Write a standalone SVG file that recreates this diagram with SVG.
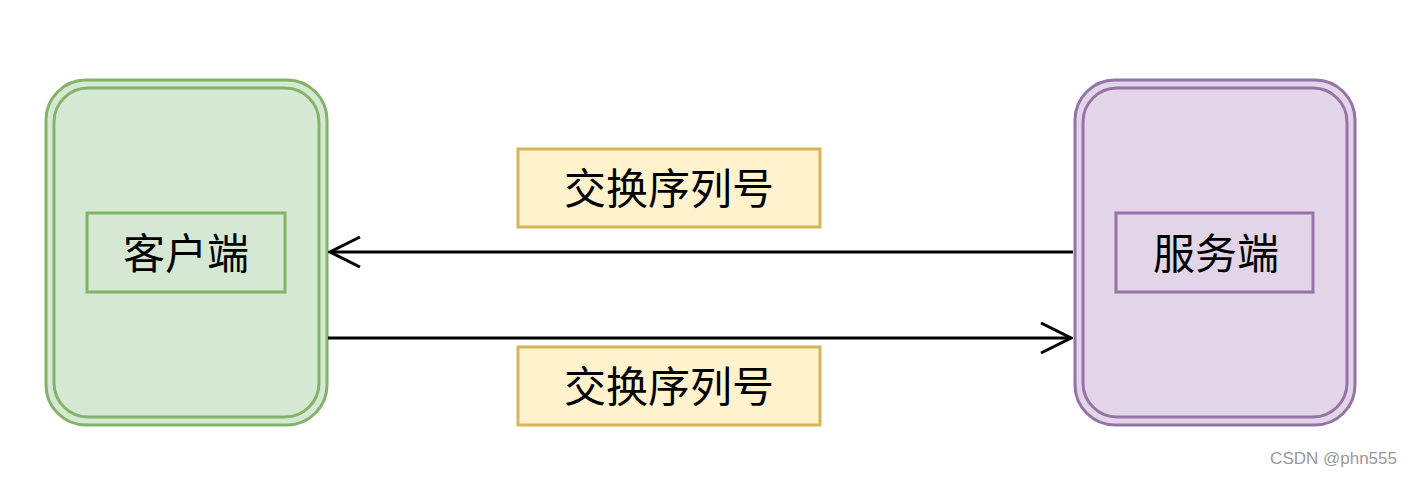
<svg xmlns="http://www.w3.org/2000/svg" width="1412" height="478" viewBox="0 0 1412 478">
<style>
.t{font-family:"Liberation Sans","Noto Sans CJK SC",sans-serif;font-size:42px;fill:#000;text-anchor:middle;dominant-baseline:central}
.lbl{fill:#fff2cc;stroke:#d6b656;stroke-width:3}
.c{stroke:#000;stroke-width:3;fill:none}
</style>
<defs><marker id="a" markerWidth="14" markerHeight="14" refX="12" refY="7" orient="auto" markerUnits="userSpaceOnUse" viewBox="0 0 14 14"><path d="M0,0 L12,7 L0,14" fill="none" stroke="#000" stroke-width="3"/></marker>
<marker id="b" markerWidth="34" markerHeight="34" refX="32" refY="16" orient="auto" markerUnits="userSpaceOnUse"><path d="M2,1 L32,16 L2,31" fill="none" stroke="#000" stroke-width="3"/></marker></defs>
<rect width="1412" height="478" fill="#fff"/>
<g id="client">
<rect x="46" y="80" width="281" height="345" rx="40" fill="#d5e8d4" stroke="#82b366" stroke-width="3"/>
<rect x="54" y="88" width="265" height="329" rx="34" fill="none" stroke="#82b366" stroke-width="3"/>
<rect x="87" y="213" width="198" height="79" fill="none" stroke="#82b366" stroke-width="3"/>
<text class="t" x="186" y="254">客户端</text>
</g>
<g id="server">
<rect x="1075" y="80" width="280" height="345" rx="40" fill="#e1d5e7" stroke="#9673a6" stroke-width="3"/>
<rect x="1083" y="88" width="264" height="329" rx="34" fill="none" stroke="#9673a6" stroke-width="3"/>
<rect x="1116" y="213" width="197" height="79" fill="none" stroke="#9673a6" stroke-width="3"/>
<text class="t" x="1216" y="254">服务端</text>
</g>
<g id="label1"><rect class="lbl" x="518" y="149" width="302" height="78"/><text class="t" x="669" y="189">交换序列号</text></g>
<g id="label2"><rect class="lbl" x="518" y="347" width="302" height="78"/><text class="t" x="669" y="387">交换序列号</text></g>
<g id="connectors">
<line class="c" x1="1073" y1="252" x2="330" y2="252" marker-end="url(#b)"/>
<line class="c" x1="328" y1="338" x2="1071" y2="338" marker-end="url(#b)"/>
</g>
<text x="1397" y="464" font-family="Liberation Sans,sans-serif" font-size="17" fill="#999" text-anchor="end">CSDN @phn555</text>
</svg>
